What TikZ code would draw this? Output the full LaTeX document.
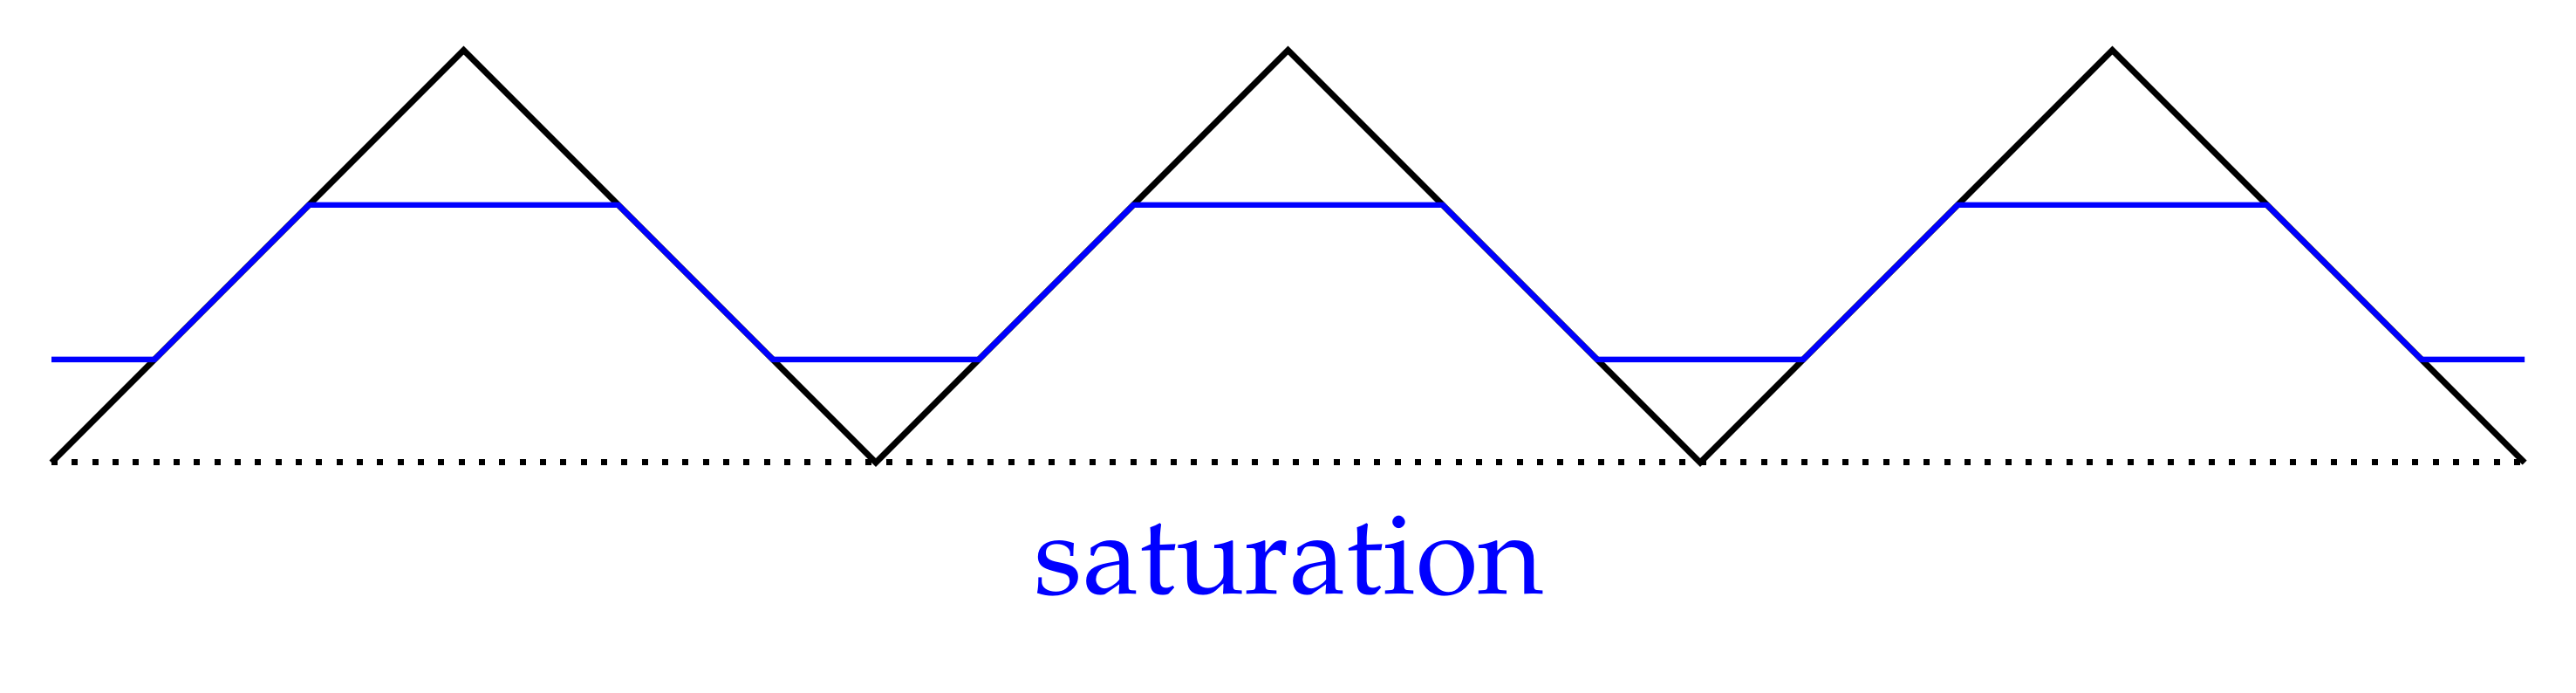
\documentclass[tikz,border=0pt]{standalone}
\usepackage[T1]{fontenc}
\usepackage{mathpazo}
\tikzset{
  wave/.style={line width=0.7mm, black},
  clipped/.style={line width=0.63mm, blue},
  zeroline/.style={line width=0.7mm, dash pattern=on 0.7mm off 1.633mm},
  caption/.style={text=blue, font=\fontsize{37}{44}\selectfont, inner sep=0pt, anchor=base}
}

\begin{document}
\begin{tikzpicture}[x=1cm,y=1cm]
  \useasboundingbox (0,0) rectangle (29.53,7.94);
  \begin{scope}[shift={(0.59,2.64)}]
    \draw[zeroline] (0,0) -- (28.35,0);
    \draw[wave] (0,0) \foreach \k in {0,1,2} {-- ({9.45*\k+4.725},4.725) -- ({9.45*\k+9.45},0)};
    \draw[clipped] (0,1.18125) \foreach \k in {0,1,2} {-- ({9.45*\k+1.18125},1.18125) -- ({9.45*\k+2.953125},2.953125) -- ({9.45*\k+6.496875},2.953125) -- ({9.45*\k+8.26875},1.18125)} -- (28.35,1.18125);
  \end{scope}
  \node[caption] (label) at (14.78,1.13) {saturation};
\end{tikzpicture}
\end{document}
